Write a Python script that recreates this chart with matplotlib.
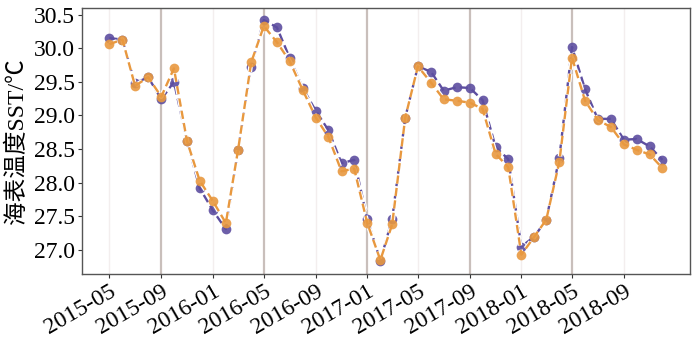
import numpy as np
import pandas as pd
import matplotlib
matplotlib.use("Agg")
import matplotlib.pyplot as plt
import matplotlib.patheffects as pe

# monthly SST, 2015-05 .. 2018-12
months = pd.date_range("2015-05-01", "2018-12-01", freq="MS")
sst_a = [30.15, 30.13, 29.48, 29.57, 29.24, 29.50, 28.62, 27.92, 27.59, 27.31, 28.49, 29.72,
         30.42, 30.31, 29.86, 29.41, 29.07, 28.78, 28.29, 28.34, 27.46, 26.84, 27.46, 28.97,
         29.73, 29.65, 29.37, 29.42, 29.41, 29.23, 28.53, 28.35, 27.05, 27.20, 27.45, 28.37,
         30.02, 29.39, 28.95, 28.95, 28.64, 28.65, 28.54, 28.34]
sst_b = [30.06, 30.13, 29.44, 29.57, 29.28, 29.70, 28.62, 28.03, 27.73, 27.40, 28.49, 29.79,
         30.33, 30.09, 29.81, 29.38, 28.97, 28.68, 28.17, 28.21, 27.40, 26.85, 27.38, 28.97,
         29.73, 29.49, 29.24, 29.22, 29.19, 29.10, 28.43, 28.23, 26.93, 27.20, 27.45, 28.31,
         29.86, 29.22, 28.93, 28.83, 28.57, 28.49, 28.42, 28.22]
tick_dates = pd.date_range("2015-05-01", "2018-09-01", freq="4MS")
tick_labels = [d.strftime("%Y-%m") for d in tick_dates]
yticks = [27.0, 27.5, 28.0, 28.5, 29.0, 29.5, 30.0, 30.5]

plt.rcParams['font.family'] = ['Liberation Serif', 'Noto Sans CJK SC']

fig = plt.figure(figsize=(7, 3.44), dpi=100)
ax = fig.add_axes([0.117, 0.203, 0.869, 0.774])

# vertical grid: alternating light / dark
for i, d in enumerate(tick_dates):
    if i % 2 == 1:
        ax.axvline(d, color='#c9bfbb', lw=1.6, zorder=0)
    else:
        ax.axvline(d, color='#f3eeee', lw=1.0, zorder=0)

glow = [pe.Stroke(linewidth=3.4, foreground='white'), pe.Normal()]
for ys, col, z in [(sst_a, '#5d4ea0', 3), (sst_b, '#e8983f', 4)]:
    ax.plot(months, ys, color=col, ls=(0, (3.5, 1.8)), lw=1.7,
            path_effects=glow, zorder=z)
    ax.plot(months, ys, ls='none', marker='o', ms=7, color=col,
            markeredgewidth=0, alpha=0.9, zorder=z)

ax.set_xlim(pd.Timestamp("2015-02-25"), pd.Timestamp("2019-02-05"))
ax.set_ylim(26.64, 30.6)
ax.set_xticks(tick_dates)
ax.set_xticklabels(tick_labels, rotation=30, ha='right', rotation_mode='anchor', fontsize=17)
ax.set_yticks(yticks)
ax.set_yticklabels([f"{v:.1f}" for v in yticks], fontsize=17)
ax.tick_params(axis='both', length=3, color='#333333', pad=2)
ax.set_ylabel("海表温度SST/℃", fontsize=17, labelpad=4)
for s in ax.spines.values():
    s.set_color('#555555')
    s.set_linewidth(1.0)

fig.savefig("out.png", dpi=100)
